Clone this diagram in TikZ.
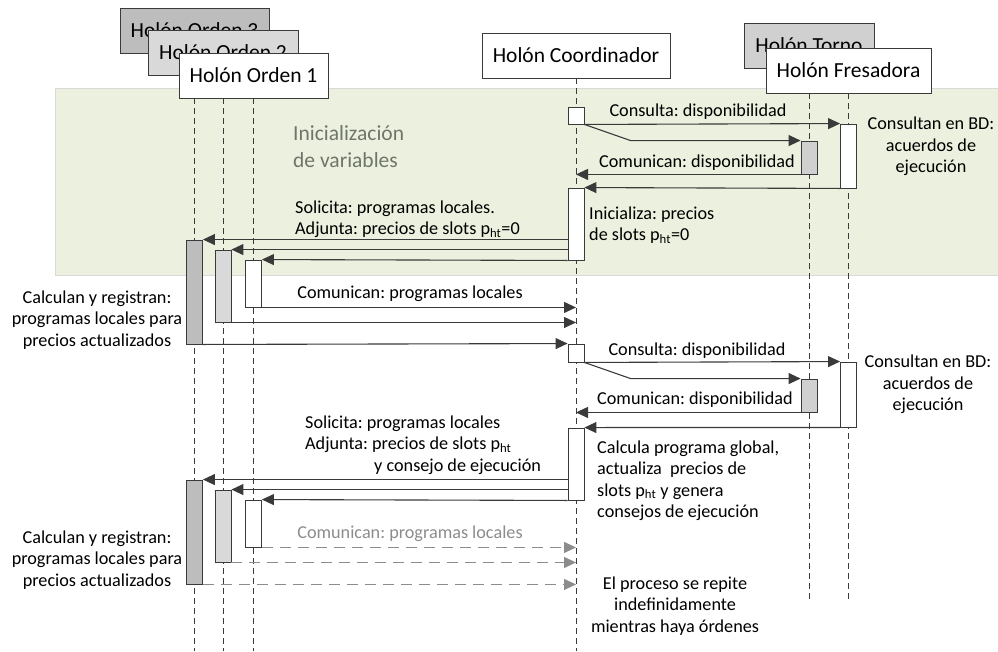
\documentclass[tikz,border=0pt]{standalone}
\usepackage{fontspec}
\setmainfont{Carlito}
\usepackage{tikz}
\usetikzlibrary{shapes,arrows.meta,positioning,calc}
\frenchspacing

\definecolor{fondoverde}{HTML}{EBF1DE}
\definecolor{linea}{HTML}{3A3A3A}
\definecolor{grisoscuro}{HTML}{BDBDBD}
\definecolor{grisclaro}{HTML}{D9D9D9}
\definecolor{gristorno}{HTML}{D0D0D0}
\definecolor{gristexto}{HTML}{6F7569}
\definecolor{grisflecha}{HTML}{8C8C8C}

\begin{document}
\begin{tikzpicture}[x=1pt, y=-1pt,
    holon/.style={rectangle, draw=linea, line width=0.9pt, minimum height=45pt, inner sep=0pt, font=\fontsize{21.5}{26}\selectfont},
    act/.style={rectangle, draw=linea, line width=0.9pt, fill=white, minimum width=16pt, inner sep=0pt},
    lifeline/.style={draw=linea, line width=0.8pt, dash pattern=on 6pt off 4pt},
    msg/.style={draw=linea, line width=1.1pt, -{Triangle[length=12pt,width=11pt]}},
    msggris/.style={draw=grisflecha, line width=1.2pt, dash pattern=on 11pt off 7pt, -{Triangle[length=12pt,width=11pt,fill=grisflecha]}},
    lbl/.style={inner sep=0pt, font=\fontsize{18.2}{21.5}\selectfont, align=center}]
    \useasboundingbox (0,0) rectangle (998,651);

    % fondo de la inicializacion
    \node[draw=black!15, fill=fondoverde, minimum width=943pt, minimum height=187pt, anchor=north west, inner sep=0pt] (fondo) at (55,88) {};
    \node[lbl, align=left, anchor=west, text=gristexto, font=\fontsize{21.5}{27}\selectfont] (inicial) at (293,146.5) {Inicialización\\de variables};

    % holones
    \node[holon, fill=grisoscuro, minimum width=149pt] (o3head) at (194.5,30.5) {Holón Orden 3};
    \node[holon, fill=grisclaro, minimum width=150pt] (o2head) at (223,52.5) {Holón Orden 2};
    \node[holon, fill=white, minimum width=149pt] (o1head) at (253.5,75.5) {Holón Orden 1};
    \node[holon, fill=white, minimum width=188pt] (coordhead) at (576,55.5) {Holón Coordinador};
    \node[holon, fill=gristorno, minimum width=130pt] (tornohead) at (809,45.5) {Holón Torno};
    \node[holon, fill=white, minimum width=165pt] (fresahead) at (848.5,70.5) {Holón Fresadora};

    % lineas de vida
    \coordinate (fin) at (0,651);
    \coordinate (fintaller) at (0,603);
    \draw[lifeline] (o3head.south |- o1head.south) -- (o3head.south |- fin);
    \draw[lifeline] (o2head.south |- o1head.south) -- (o2head.south |- fin);
    \draw[lifeline] (o1head.south) -- (o1head.south |- fin);
    \draw[lifeline] (coordhead.south) -- (coordhead.south |- fin);
    \draw[lifeline] (tornohead.south |- fresahead.south) -- (tornohead.south |- fintaller);
    \draw[lifeline] (fresahead.south) -- (fresahead.south |- fintaller);

    % activaciones
    \node[act, minimum height=17pt] (ca1) at (coordhead.south |- 0,115.5) {};
    \node[act, minimum height=64pt] (fa1) at (fresahead.south |- 0,156) {};
    \node[act, fill=gristorno, minimum height=33pt] (ta1) at (tornohead.south |- 0,157.5) {};
    \node[act, minimum height=72pt] (ca2) at (coordhead.south |- 0,224) {};
    \node[act, fill=grisoscuro, minimum height=104pt] (o3a1) at (o3head.south |- 0,292) {};
    \node[act, fill=grisclaro, minimum height=72pt] (o2a1) at (o2head.south |- 0,286) {};
    \node[act, minimum height=47pt] (o1a1) at (o1head.south |- 0,283.5) {};
    \node[act, minimum height=18pt] (ca3) at (coordhead.south |- 0,353) {};
    \node[act, minimum height=65pt] (fa2) at (fresahead.south |- 0,394.5) {};
    \node[act, fill=gristorno, minimum height=33pt] (ta2) at (tornohead.south |- 0,395.5) {};
    \node[act, minimum height=72pt] (ca4) at (coordhead.south |- 0,464) {};
    \node[act, fill=grisoscuro, minimum height=104pt] (o3a2) at (o3head.south |- 0,532) {};
    \node[act, fill=grisclaro, minimum height=72pt] (o2a2) at (o2head.south |- 0,526) {};
    \node[act, minimum height=47pt] (o1a2) at (o1head.south |- 0,523.5) {};

    % primera ronda
    \draw[msg] (ca1.south east) -- (fa1.north west);
    \draw[msg] (ca1.south east) -- ([xshift=-170pt]ta1.north west) -- (ta1.north west);
    \draw[msg] (ta1.south west) -- (ta1.south west -| coordhead.south);
    \draw[msg] (fa1.south west) -- (ca2.north east);
    \draw[msg] (o3a1.north east -| ca2.west) -- (o3a1.north east);
    \draw[msg] (o2a1.north east -| ca2.west) -- (o2a1.north east);
    \draw[msg] (ca2.south west) -- (o1a1.north east);
    \draw[msg] (o1a1.south east) -- (o1a1.south east -| coordhead.south);
    \draw[msg] (o2a1.south east) -- (o2a1.south east -| coordhead.south);
    \draw[msg] (o3a1.south east) -- (ca3.north west);

    % segunda ronda
    \draw[msg] (ca3.south east) -- (fa2.north west);
    \draw[msg] (ca3.south east) -- ([xshift=-170pt]ta2.north west) -- (ta2.north west);
    \draw[msg] (ta2.south west) -- (ta2.south west -| coordhead.south);
    \draw[msg] (fa2.south west) -- (ca4.north east);
    \draw[msg] (o3a2.north east -| ca4.west) -- (o3a2.north east);
    \draw[msg] (o2a2.north east -| ca4.west) -- (o2a2.north east);
    \draw[msg] (ca4.south west) -- (o1a2.north east);
    \draw[msggris] (o1a2.south east) -- (o1a2.south east -| coordhead.south);
    \draw[msggris] (o2a2.south east) -- (o2a2.south east -| coordhead.south);
    \draw[msggris] (o3a2.south east) -- (o3a2.south east -| coordhead.south);

    % textos
    \node[lbl] (consulta1) at (698,112) {Consulta: disponibilidad};
    \node[lbl] (comunica1) at (697,163) {Comunican: disponibilidad};
    \node[lbl] (bd1) at (931,146.5) {Consultan en BD:\\acuerdos de\\ejecución};
    \node[lbl, align=left, anchor=west] (solicita1) at (295,219) {Solicita: programas locales.\\Adjunta: precios de slots p\textsubscript{ht}=0};
    \node[lbl, align=left, anchor=west] (inicializa) at (589,225) {Inicializa: precios\\de slots p\textsubscript{ht}=0};
    \node[lbl] (programas1) at (410,294) {Comunican: programas locales};
    \node[lbl] (calculan1) at (97,320) {Calculan y registran:\\programas locales para\\precios actualizados};
    \node[lbl] (consulta2) at (697,351) {Consulta: disponibilidad};
    \node[lbl] (comunica2) at (695,400) {Comunican: disponibilidad};
    \node[lbl] (bd2) at (928,384.5) {Consultan en BD:\\acuerdos de\\ejecución};
    \node[lbl, align=left, anchor=west] (solicita2) at (305,445) {Solicita: programas locales\\Adjunta: precios de slots p\textsubscript{ht}\\\hspace*{69pt}y consejo de ejecución};
    \node[lbl, align=left, anchor=west] (global) at (597,480.5) {Calcula programa global,\\actualiza~ precios de\\slots p\textsubscript{ht} y genera\\consejos de ejecución};
    \node[lbl, text=grisflecha] (programas2) at (410,534) {Comunican: programas locales};
    \node[lbl] (calculan2) at (97,560) {Calculan y registran:\\programas locales para\\precios actualizados};
    \node[lbl] (repite) at (675,606) {El proceso se repite\\indefinidamente\\mientras haya órdenes};
\end{tikzpicture}
\end{document}
